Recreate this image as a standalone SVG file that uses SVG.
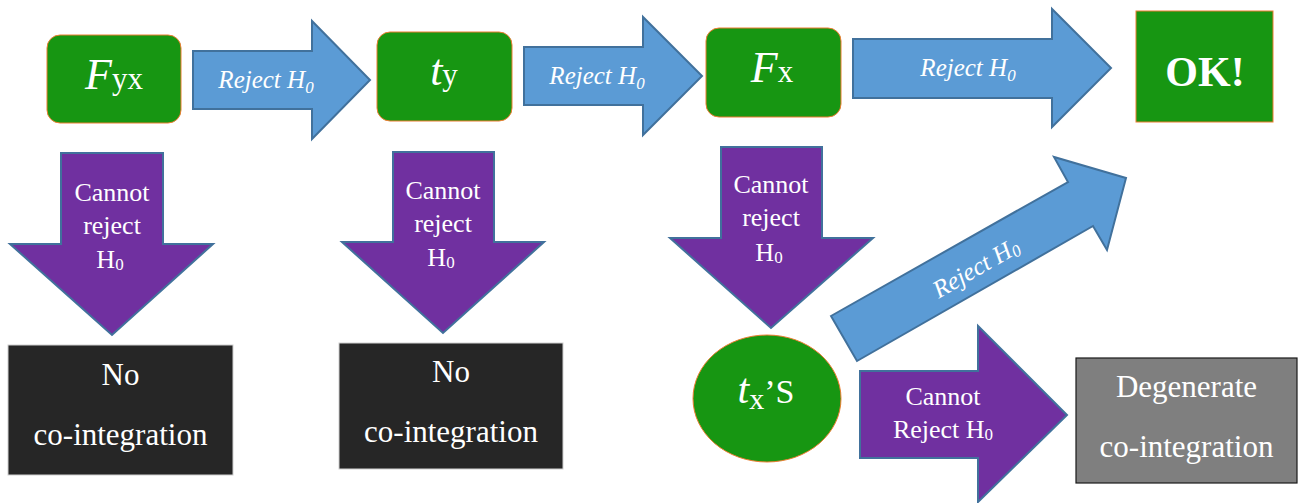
<svg xmlns="http://www.w3.org/2000/svg" width="1298" height="503" viewBox="0 0 1298 503">
  <defs>
    <style>
      .test { fill: #179612; stroke: #ed7d31; stroke-width: 1; }
      .yes { fill: #5b9bd5; stroke: #41719c; stroke-width: 2; }
      .no { fill: #7030a0; stroke: #41719c; stroke-width: 2; }
    </style>
  </defs>

  <!-- decision arrows -->
  <g id="connectors">
    <g id="a-fyx-ty">
      <polygon class="yes" points="193,51 312,51 312,21 370,80 312,139 312,109 193,109"/>
      <text x="266" y="88" font-family="Liberation Serif" font-size="25" font-style="italic" fill="#ffffff" text-anchor="middle">Reject H<tspan font-size="17" dy="5">0</tspan></text>
    </g>
    <g id="a-ty-fx">
      <polygon class="yes" points="524,47 643,47 643,17 702,76 643,135 643,105 524,105"/>
      <text x="597" y="84" font-family="Liberation Serif" font-size="25" font-style="italic" fill="#ffffff" text-anchor="middle">Reject H<tspan font-size="17" dy="5">0</tspan></text>
    </g>
    <g id="a-fx-ok">
      <polygon class="yes" points="853,39 1052,39 1052,9 1111,68 1052,127 1052,98 853,98"/>
      <text x="968" y="76" font-family="Liberation Serif" font-size="25" font-style="italic" fill="#ffffff" text-anchor="middle">Reject H<tspan font-size="17" dy="5">0</tspan></text>
    </g>
    <g id="a-fyx-no">
      <polygon class="no" points="61,153 163,153 163,244 213,244 112,335 10,244 61,244"/>
      <text x="112" y="201" font-family="Liberation Serif" font-size="26" fill="#ffffff" text-anchor="middle">Cannot</text>
      <text x="112" y="234" font-family="Liberation Serif" font-size="26" fill="#ffffff" text-anchor="middle">reject</text>
      <text x="110" y="268" font-family="Liberation Serif" font-size="26" fill="#ffffff" text-anchor="middle">H<tspan font-size="17" dy="2">0</tspan></text>
    </g>
    <g id="a-ty-no">
      <polygon class="no" points="393,152 494,152 494,242 544,242 443,333 342,242 393,242"/>
      <text x="443" y="199" font-family="Liberation Serif" font-size="26" fill="#ffffff" text-anchor="middle">Cannot</text>
      <text x="443" y="232" font-family="Liberation Serif" font-size="26" fill="#ffffff" text-anchor="middle">reject</text>
      <text x="441" y="266" font-family="Liberation Serif" font-size="26" fill="#ffffff" text-anchor="middle">H<tspan font-size="17" dy="2">0</tspan></text>
    </g>
    <g id="a-fx-tx">
      <polygon class="no" points="721,147 822,147 822,238 873,238 771,328 670,238 721,238"/>
      <text x="771" y="193" font-family="Liberation Serif" font-size="26" fill="#ffffff" text-anchor="middle">Cannot</text>
      <text x="771" y="226" font-family="Liberation Serif" font-size="26" fill="#ffffff" text-anchor="middle">reject</text>
      <text x="769" y="261" font-family="Liberation Serif" font-size="26" fill="#ffffff" text-anchor="middle">H<tspan font-size="17" dy="2">0</tspan></text>
    </g>
    <g id="a-tx-ok">
      <polygon class="yes" points="831,316 857,361 1093,226 1107,250 1126,178 1054,157 1068,182"/>
      <text x="976" y="276" transform="rotate(-30 976 268)" font-family="Liberation Serif" font-size="25" font-style="italic" fill="#ffffff" text-anchor="middle">Reject H<tspan font-size="17" dy="3">0</tspan></text>
    </g>
    <g id="a-tx-degenerate">
      <polygon class="no" points="860,371 978,371 978,326 1067,415 978,502 978,458 860,458"/>
      <text x="943" y="405" font-family="Liberation Serif" font-size="26" fill="#ffffff" text-anchor="middle">Cannot</text>
      <text x="943" y="438" font-family="Liberation Serif" font-size="26" fill="#ffffff" text-anchor="middle">Reject H<tspan font-size="17" dy="2">0</tspan></text>
    </g>
  </g>

  <!-- test statistics -->
  <g id="node-fyx">
    <rect class="test" x="47" y="35" width="134" height="88" rx="13"/>
    <text x="114" y="89" font-family="Liberation Serif" font-size="31" fill="#ffffff" text-anchor="middle"><tspan font-size="44" font-style="italic">F</tspan>yx</text>
  </g>
  <g id="node-ty">
    <rect class="test" x="377" y="32" width="135" height="89" rx="13"/>
    <text x="444" y="85" font-family="Liberation Serif" font-size="31" fill="#ffffff" text-anchor="middle"><tspan font-size="44" font-style="italic">t</tspan>y</text>
  </g>
  <g id="node-fx">
    <rect class="test" x="706" y="28" width="135" height="89" rx="13"/>
    <text x="772" y="82" font-family="Liberation Serif" font-size="31" fill="#ffffff" text-anchor="middle"><tspan font-size="44" font-style="italic">F</tspan>x</text>
  </g>
  <g id="node-tx">
    <ellipse class="test" cx="767" cy="398.5" rx="74" ry="63.5"/>
    <text x="766" y="403" font-family="Liberation Serif" font-size="34" fill="#ffffff" text-anchor="middle"><tspan font-size="42" font-style="italic">t</tspan><tspan font-size="30" dy="6">x</tspan><tspan dy="-6">&#8217;S</tspan></text>
  </g>

  <!-- outcomes -->
  <g id="node-ok">
    <rect class="test" x="1136" y="11" width="137" height="111"/>
    <text x="1205" y="86" font-family="Liberation Serif" font-size="42" font-weight="bold" fill="#ffffff" text-anchor="middle">OK!</text>
  </g>
  <g id="node-no1">
    <rect x="8" y="345" width="225" height="130" fill="#262626" stroke="#d0d0d0" stroke-width="1"/>
    <text x="120.5" y="385" font-family="Liberation Serif" font-size="31" fill="#ffffff" text-anchor="middle">No</text>
    <text x="120.5" y="445" font-family="Liberation Serif" font-size="31" fill="#ffffff" text-anchor="middle">co-integration</text>
  </g>
  <g id="node-no2">
    <rect x="339" y="343" width="224" height="126" fill="#262626" stroke="#d0d0d0" stroke-width="1"/>
    <text x="451" y="382" font-family="Liberation Serif" font-size="31" fill="#ffffff" text-anchor="middle">No</text>
    <text x="451" y="442" font-family="Liberation Serif" font-size="31" fill="#ffffff" text-anchor="middle">co-integration</text>
  </g>
  <g id="node-degenerate">
    <rect x="1076" y="358" width="221" height="125" fill="#7f7f7f" stroke="#1a1a1a" stroke-width="1.2"/>
    <text x="1186.5" y="397" font-family="Liberation Serif" font-size="31" fill="#ffffff" text-anchor="middle">Degenerate</text>
    <text x="1186.5" y="457" font-family="Liberation Serif" font-size="31" fill="#ffffff" text-anchor="middle">co-integration</text>
  </g>
</svg>
